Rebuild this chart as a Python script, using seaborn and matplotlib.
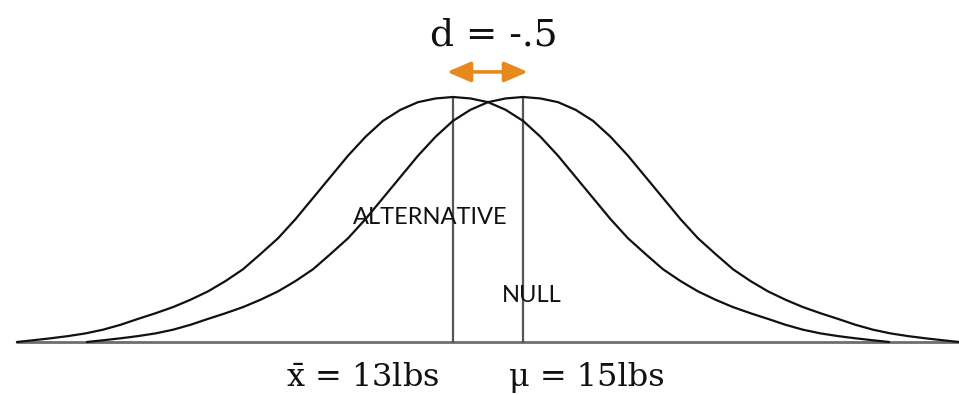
import pandas as pd
import matplotlib
matplotlib.use("Agg")
import matplotlib.pyplot as plt
import seaborn as sns

# ===============================
# Data
# ===============================
GROUPS = ["ALTERNATIVE", "NULL"]
MEANS = [13, 15]                      # lbs
# half profile of each bell: distance from the mean (lbs) and density
PROFILE_OFFSET = [0, 0.5, 1.0, 1.5, 2.0, 2.5, 3.0, 3.5, 4.0, 4.5, 5.0, 5.5, 6.0,
                  6.5, 7.0, 7.5, 8.0, 8.5, 9.0, 9.5, 10.0, 10.5, 11.0, 11.5, 12.0, 12.46]
PROFILE_DENSITY = [0.0997, 0.0991, 0.0976, 0.0945, 0.0900, 0.0835, 0.0758, 0.0672,
                   0.0586, 0.0500, 0.0422, 0.0358, 0.0296, 0.0248, 0.0206, 0.0172,
                   0.0142, 0.0117, 0.0094, 0.0070, 0.0050, 0.0035, 0.0024, 0.0015,
                   0.0007, 0.0]
BASELINE = [0.5, 27.45]
MEAN_LABELS = [r"$\bar{\mathrm{x}}$ = 13lbs", "μ = 15lbs"]
EFFECT_LABEL = "d = -.5"

# build long table of curve points
rows = []
for group, mean in zip(GROUPS, MEANS):
    left = [(mean - o, d) for o, d in zip(PROFILE_OFFSET[::-1], PROFILE_DENSITY[::-1])]
    right = [(mean + o, d) for o, d in zip(PROFILE_OFFSET[1:], PROFILE_DENSITY[1:])]
    for i, (w, d) in enumerate(left + right):
        rows.append({"group": group, "order": i, "weight": w, "density": d})
curves = pd.DataFrame(rows)
peak = max(PROFILE_DENSITY)

# ===============================
# Plot
# ===============================
sns.set_theme(style="white")
plt.rcParams["mathtext.fontset"] = "dejavuserif"

fig = plt.figure(figsize=(9.59, 3.95), dpi=100)
ax = fig.add_axes([0, 0, 1, 1])

ax.plot(BASELINE, [0, 0], color="#6e6e6e", lw=2, solid_capstyle="butt", zorder=1)

sns.lineplot(data=curves, x="weight", y="density", units="group", estimator=None,
             sort=False, color="#111111", lw=1.6, ax=ax, zorder=3)
for line in ax.get_lines():
    line.set_solid_joinstyle("round")

for mean in MEANS:
    ax.plot([mean, mean], [0, peak], color="#555555", lw=1.6, zorder=2)

ax.annotate("", xy=(MEANS[1] + 0.14, 0.1099), xytext=(MEANS[0] - 0.17, 0.1099),
            arrowprops=dict(arrowstyle="<|-|>,head_length=0.65,head_width=0.28",
                            color="#E6891E", lw=2.6, mutation_scale=22,
                            shrinkA=0, shrinkB=0))

ax.set_xlim(0.057, 27.457)
ax.set_ylim(-0.02157, 0.13917)
ax.axis("off")

# group labels
ax.text(13 + (430 - 453) / 35, (342 - 218) / 245 * 0.0997, GROUPS[0],
        family="Lato", fontsize=17, ha="center", va="center", color="#111111")
ax.text(13 + (532 - 453) / 35, (342 - 296) / 245 * 0.0997, GROUPS[1],
        family="Lato", fontsize=17, ha="center", va="center", color="#111111")

# effect size title and mean labels
fig.text(494 / 959, 1 - 46 / 395, EFFECT_LABEL, family="DejaVu Serif",
         fontsize=27, ha="center", va="baseline", color="#111111")
fig.text(363 / 959, 1 - 386 / 395, MEAN_LABELS[0], family="DejaVu Serif",
         fontsize=23, ha="center", va="baseline", color="#111111")
fig.text(587 / 959, 1 - 386 / 395, MEAN_LABELS[1], family="DejaVu Serif",
         fontsize=23, ha="center", va="baseline", color="#111111")

fig.savefig("out.png", dpi=100, facecolor="white")
